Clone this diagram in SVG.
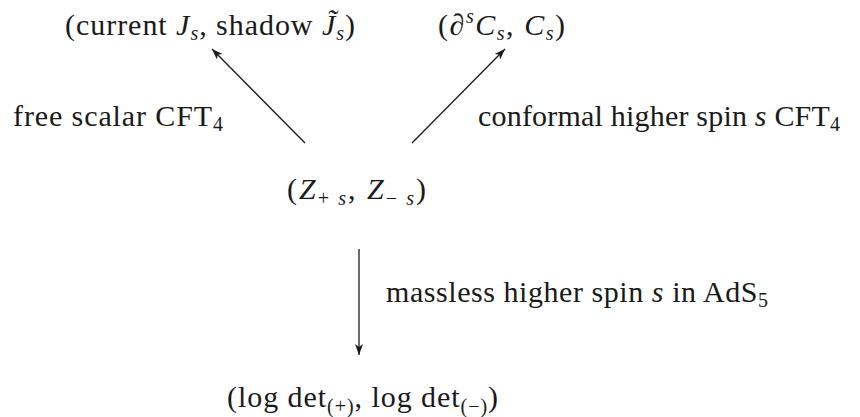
<svg xmlns="http://www.w3.org/2000/svg" width="860" height="417" viewBox="0 0 860 417">
<style>
text{font-family:"Liberation Serif","Times New Roman",serif;font-size:30px;fill:#1a1a1a}
.i{font-style:italic}
.sub{font-size:20px}
.conn line{stroke:#1a1a1a;stroke-width:1.3}
</style>
<defs>
<marker id="ah" markerUnits="userSpaceOnUse" markerWidth="12" markerHeight="8" refX="11" refY="4" orient="auto">
<path d="M0,0 L11,4 L0,8 L3,4 Z" fill="#1a1a1a"/>
</marker>
</defs>
<rect width="860" height="417" fill="#fff"/>
<g id="n_current">
<text x="65" y="35" textLength="290" lengthAdjust="spacing">(current <tspan class="i">J</tspan><tspan class="i sub" dy="5">s</tspan><tspan dy="-5">, shadow </tspan><tspan class="i">J̃</tspan><tspan class="i sub" dy="5">s</tspan><tspan dy="-5">)</tspan></text>
</g>
<g id="n_conformal">
<text x="438" y="35" textLength="127" lengthAdjust="spacing">(∂<tspan class="i sub" dy="-12">s</tspan><tspan class="i" dy="12">C</tspan><tspan class="i sub" dy="5">s</tspan><tspan dy="-5">, </tspan><tspan class="i">C</tspan><tspan class="i sub" dy="5">s</tspan><tspan dy="-5">)</tspan></text>
</g>
<g id="n_Z">
<text x="287" y="199" textLength="139" lengthAdjust="spacing">(<tspan class="i">Z</tspan><tspan class="sub" dy="6">+ </tspan><tspan class="i sub">s</tspan><tspan dy="-6">, </tspan><tspan class="i">Z</tspan><tspan class="sub" dy="6">− </tspan><tspan class="i sub">s</tspan><tspan dy="-6">)</tspan></text>
</g>
<g id="n_logdet">
<text x="227" y="407" textLength="271" lengthAdjust="spacing">(log det<tspan class="sub" dy="6">(+)</tspan><tspan dy="-6">, log det</tspan><tspan class="sub" dy="6">(−)</tspan><tspan dy="-6">)</tspan></text>
</g>
<g id="labels">
<text x="13" y="126" textLength="210" lengthAdjust="spacing">free scalar CFT<tspan class="sub" dy="5">4</tspan></text>
<text x="478" y="126" textLength="362" lengthAdjust="spacing">conformal higher spin <tspan class="i">s</tspan> CFT<tspan class="sub" dy="5">4</tspan></text>
<text x="386" y="302" textLength="382" lengthAdjust="spacing">massless higher spin <tspan class="i">s</tspan> in AdS<tspan class="sub" dy="5">5</tspan></text>
</g>
<g class="conn" id="connectors">
<line x1="305" y1="143" x2="212" y2="49" marker-end="url(#ah)"/>
<line x1="412" y1="143" x2="505" y2="49" marker-end="url(#ah)"/>
<line x1="359" y1="249" x2="359" y2="355" marker-end="url(#ah)"/>
</g>
</svg>
